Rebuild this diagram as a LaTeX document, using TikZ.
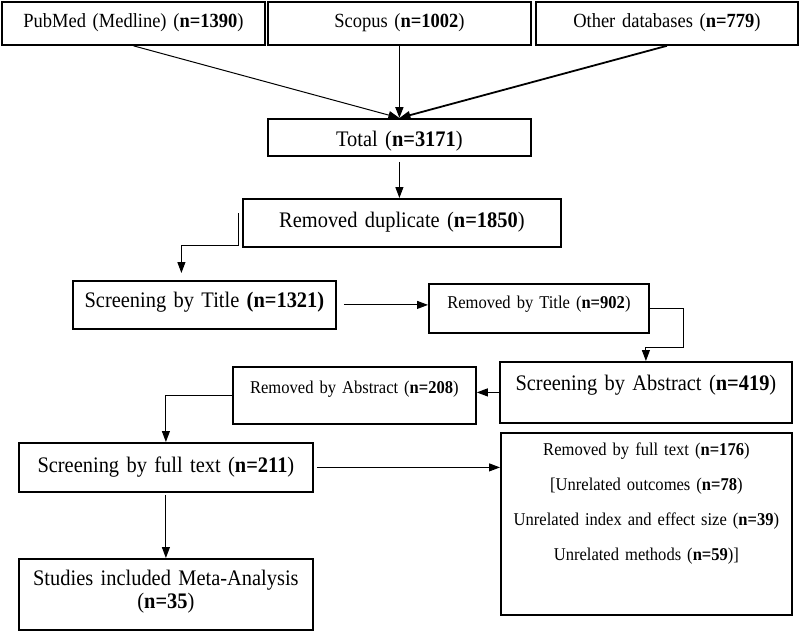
\documentclass[tikz,border=0pt]{standalone}
\usepackage{fontspec}
\setmainfont[FakeStretch=0.92]{Liberation Serif}
\usetikzlibrary{arrows.meta}

\newcommand{\srcfont}{\fontsize{20.1}{22}\selectfont}
\newcommand{\stagefont}{\fontsize{22.2}{23}\selectfont}
\newcommand{\dropfont}{\fontsize{18}{35}\selectfont}

\tikzset{
  box/.style={draw, line width=1.8pt, inner sep=0pt, align=center, anchor=north west},
  flow/.style={->, line width=1pt},
  >={Triangle[length=11pt,width=8pt]}
}

\begin{document}
\begin{tikzpicture}[x=1pt, y=-1pt]
\useasboundingbox (0,0) rectangle (799,630);
% sources
\node[box, font=\srcfont, text width=263pt, text height=26pt, text depth=17pt] (pubmed) at (1,1) {PubMed (Medline) (\textbf{n=1390})};
\node[box, font=\srcfont, text width=263pt, text height=26pt, text depth=17pt] (scopus) at (267,1) {Scopus (\textbf{n=1002})};
\node[box, font=\srcfont, text width=262pt, text height=26pt, text depth=17pt] (other) at (535,1) {Other databases (\textbf{n=779})};
\node[box, font=\stagefont, text width=263pt, text height=28pt, text depth=9pt] (total) at (267,118) {Total (\textbf{n=3171})};
\node[box, font=\stagefont, text width=318pt, text height=29pt, text depth=19pt] (dup) at (242,198) {Removed duplicate (\textbf{n=1850})};
% screening
\node[box, font=\stagefont, text width=263pt, text height=27pt, text depth=21pt] (title) at (72,280) {Screening by Title \textbf{(n=1321)}};
\node[box, font=\dropfont, text width=220pt, text height=25pt, text depth=24pt] (rmtitle) at (428,283) {Removed by Title (\textbf{n=902})};
\node[box, font=\stagefont, text width=292pt, text height=29pt, text depth=32pt] (abstract) at (499,361) {Screening by Abstract (\textbf{n=419})};
\node[box, font=\dropfont, text width=243pt, text height=27pt, text depth=30pt] (rmabs) at (232,366) {Removed by Abstract (\textbf{n=208})};
\node[box, font=\stagefont, text width=294pt, text height=30pt, text depth=19pt] (fulltext) at (18,442) {Screening by full text (\textbf{n=211})};
\node[box, font=\dropfont, text width=291pt, text height=23pt, text depth=159pt] (rmfull) at (500,432) {Removed by full text (\textbf{n=176})\\
  {[}Unrelated outcomes (\textbf{n=78})\\
  Unrelated index and effect size (\textbf{n=39})\\
  Unrelated methods (\textbf{n=59})]};
\node[box, font=\stagefont, text width=294pt, text height=27pt, text depth=44pt] (included) at (18,558) {Studies included Meta-Analysis\\(\textbf{n=35})};

% connectors
\draw[flow] (pubmed.south) -- (total.north);
\draw[flow, line width=1.8pt] (scopus.south) -- (total.north);
\draw[flow, line width=1.8pt] (other.south) -- (total.north);
\draw[flow, shorten <=5pt] (total.south) -- (total.south |- dup.north);
\draw[flow, shorten >=7pt] ([shift={(-4,15)}]dup.north west) -- ++(0,32) -| ([xshift=-23]title.north);
\draw[flow, shorten <=7pt] (title.east) -- (title.east -| rmtitle.west);
\draw[flow] (rmtitle.east) -| ++(34,39) -| (abstract.north);
\draw[flow] (abstract.west) -- (abstract.west -| rmabs.east);
\draw[flow] (rmabs.west) -| (fulltext.north);
\draw[flow, shorten <=3pt] (fulltext.east) -- (fulltext.east -| rmfull.west);
\draw[flow, shorten <=2pt] (fulltext.south) -- (included.north);
\end{tikzpicture}
\end{document}
